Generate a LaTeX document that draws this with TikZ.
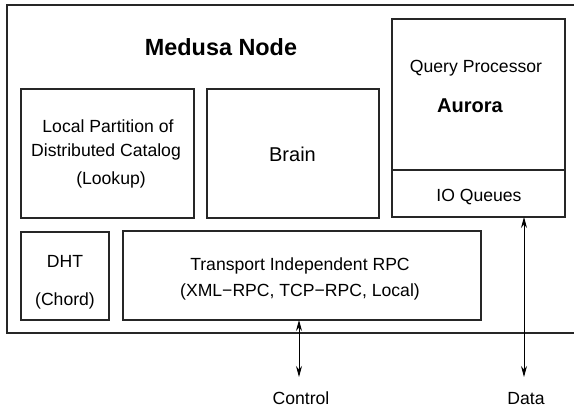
\documentclass[tikz,border=0pt]{standalone}
\usepackage{fontspec}
\setmainfont{Liberation Sans}
\usetikzlibrary{arrows.meta}
\begin{document}
\begin{tikzpicture}[x=1pt,y=-1pt,
  box/.style={draw=black!85,line width=1.1pt},
  lbl/.style={anchor=base,inner sep=0pt,font=\fontsize{17.6}{21}\selectfont},
  title/.style={anchor=base,inner sep=0pt,font=\fontsize{23.4}{28}\selectfont\bfseries},
  subtitle/.style={anchor=base,inner sep=0pt,font=\fontsize{20}{24}\selectfont\bfseries},
  flow/.style={line width=1pt,{Stealth[length=11pt,width=6pt]}-{Stealth[length=11pt,width=6pt]}}]
\useasboundingbox (0,0) rectangle (574,408);
\fill[white] (0,0) rectangle (574,408);

% enclosing node frame, open towards the right edge
\draw[line width=1.3pt,draw=black!85] (574,5) -- (7,5) -- (7,333) -- (574,333);
\node[title] (medusa) at (221,55) {Medusa Node};

% component boxes
\draw[box] (21,89) rectangle (194,218);
\node[lbl] (cat1) at (108,132) {Local Partition of};
\node[lbl] (cat2) at (106,156) {Distributed Catalog};
\node[lbl] (cat3) at (111,184) {(Lookup)};

\draw[box] (207,89) rectangle (379,218);
\node[lbl,font=\fontsize{20}{24}\selectfont] (brain) at (292.5,161) {Brain};

\draw[box] (392,19) rectangle (565,170);
\draw[box] (392,170) rectangle (565,217);
\coordinate (ioq) at (524,217);
\node[lbl] (qp) at (476,72) {Query Processor};
\node[subtitle] (aurora) at (470,112) {Aurora};
\node[lbl] (io) at (479,201) {IO Queues};

\draw[box] (21,232) rectangle (109,320);
\node[lbl] (dht) at (65,267) {DHT};
\node[lbl] (chord) at (65,305) {(Chord)};

\draw[box] (123,231) rectangle (481,320);
\coordinate (rpc) at (299,320);
\node[lbl] (rpc1) at (300,270) {Transport Independent RPC};
\node[lbl] (rpc2) at (300,296) {(XML−RPC, TCP−RPC, Local)};

% external interfaces
\coordinate (ctlend) at (299,377);
\coordinate (dataend) at (524,377);
\draw[flow] (rpc) -- (ctlend);
\draw[flow] (ioq) -- (dataend);
\node[lbl] (control) at (301,404) {Control};
\node[lbl] (data) at (526,404) {Data};
\end{tikzpicture}
\end{document}
